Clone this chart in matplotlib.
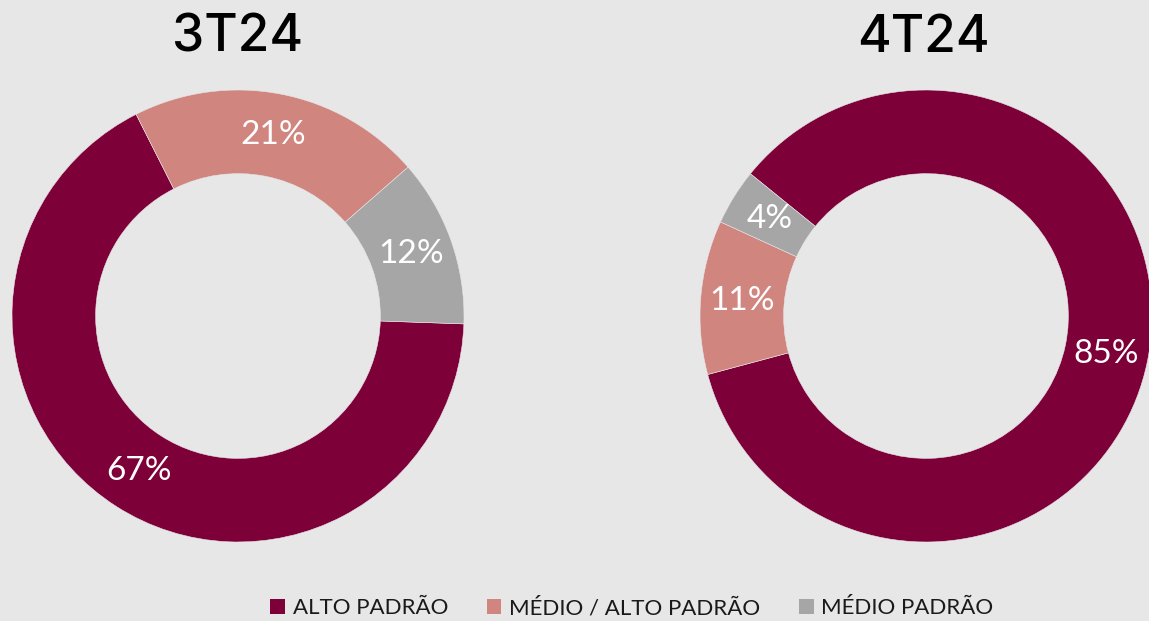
import matplotlib.pyplot as plt
from matplotlib.patches import Patch

# --- DATA ---
categorias = ['ALTO PADRÃO', 'MÉDIO / ALTO PADRÃO', 'MÉDIO PADRÃO']
periodos = ['3T24', '4T24']
valores_3t24 = [67, 21, 12]
valores_4t24 = [85, 11, 4]

cores = ['#7E0038', '#D0857F', '#A6A6A6']
fundo = '#E7E7E7'

W, H = 1149, 621
fig = plt.figure(figsize=(W / 100, H / 100), dpi=100, facecolor=fundo)

# posicao das rosquinhas (px): canto esquerdo, angulo inicial, centro do titulo
config = [
    (12, valores_3t24, -2, 238),
    (700, valores_4t24, 141, 923),
]
R = 226

for (x0, vals, ang, xt), titulo in zip(config, periodos):
    ax = fig.add_axes([x0 / W, (H - 542) / H, 2 * R / W, 2 * R / H])
    ax.set_facecolor(fundo)
    wedges, texts, autotexts = ax.pie(
        vals, colors=cores, startangle=ang, counterclock=False,
        radius=1, pctdistance=0.815,
        autopct=lambda p: f'{p:.0f}%',
        wedgeprops=dict(width=0.37, edgecolor=fundo, linewidth=0.4),
        textprops=dict(color='white', fontsize=24, family='Lato'))
    ax.set_xlim(-1, 1)
    ax.set_ylim(-1, 1)
    ax.set_aspect('equal')
    ax.axis('off')
    fig.text(xt / W, 1 - 38 / H, titulo, ha='center', va='center',
             fontsize=37, fontweight='medium', family='Inter', color='black')

handles = [Patch(facecolor=c, edgecolor='none') for c in cores]
fig.legend(handles, categorias, loc='center', ncol=3,
           bbox_to_anchor=(632 / W, 1 - 608 / H), frameon=False,
           prop=dict(family='Lato', size=16),
           handlelength=0.65, handleheight=0.65,
           handletextpad=0.35, columnspacing=1.75, labelcolor='#1A1A1A')

plt.savefig('out.png', dpi=100, facecolor=fundo)
plt.close()
